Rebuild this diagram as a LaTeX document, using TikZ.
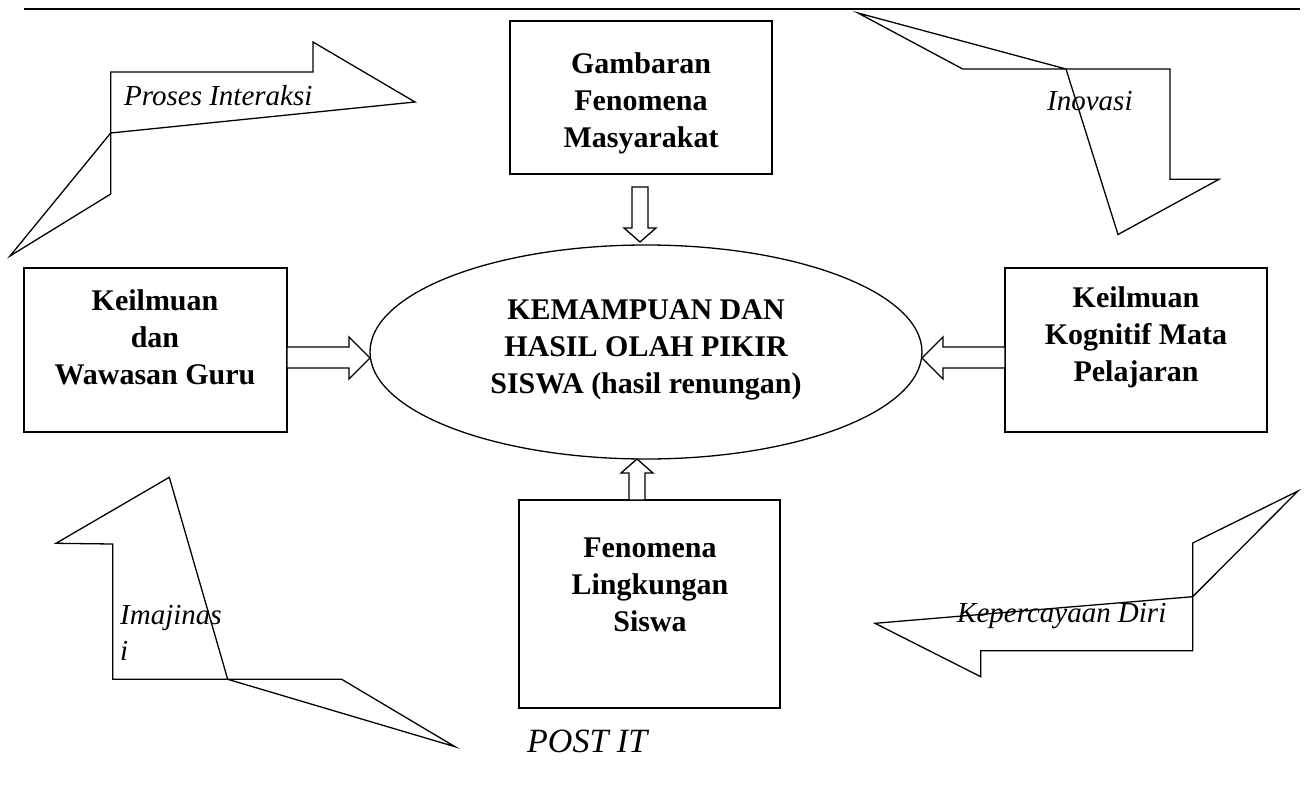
\documentclass[tikz,border=0pt]{standalone}
\usepackage{fontspec}
\setmainfont{Liberation Serif}
\usetikzlibrary{shapes.geometric}
\begin{document}
\begin{tikzpicture}[x=1pt,y=-1pt,
  shp/.style={draw, line width=1.3pt, line join=miter},
  box/.style={draw, line width=1.5pt, rectangle, inner sep=0pt},
  btxt/.style={font=\fontsize{30}{37}\selectfont\bfseries, align=center, inner sep=0pt},
  itxt/.style={font=\fontsize{29}{36}\selectfont\itshape, inner sep=0pt, anchor=base west},
  barrow/.style={draw, line width=1.3pt, fill=white, line join=miter}]
\useasboundingbox (0,0) rectangle (1310,806);
% top rule
\draw[line width=2.2pt] (24,9) -- (1300,9);

% boxes
\node[box, minimum width=262, minimum height=153] (gam) at (641,97.5) {};
\node[box, minimum width=263, minimum height=164] (guru) at (155.5,350) {};
\node[box, minimum width=262, minimum height=164] (kog) at (1136,350) {};
\node[box, minimum width=261, minimum height=208] (fen) at (649.5,604) {};
\node[draw, ellipse, line width=1.3pt, minimum width=552, minimum height=214, inner sep=0pt] (ell) at (646,352) {};

% texts
\node[btxt] (gamt) at (641,103) {Gambaran\\Fenomena\\Masyarakat};
\node[btxt] (gurut) at (155,337) {Keilmuan\\dan\\Wawasan Guru};
\node[btxt] (kogt) at (1136,337) {Keilmuan\\Kognitif Mata\\Pelajaran};
\node[btxt] (fent) at (650,585) {Fenomena\\Lingkungan\\Siswa};
\node[btxt] (ellt) at (646,350) {KEMAMPUAN DAN\\HASIL OLAH PIKIR\\SISWA (hasil renungan)};

% block arrows
\draw[barrow] (632,187) -- (648,187) -- (648,228) -- (656,228) -- (640,242) -- (624,228) -- (632,228) -- cycle;
\draw[barrow] (287,347) -- (349,347) -- (349,337) -- (370,358) -- (349,379) -- (349,368) -- (287,368) -- cycle;
\draw[barrow] (1005,347) -- (943,347) -- (943,337) -- (922,358) -- (943,379) -- (943,368) -- (1005,368) -- cycle;
\draw[barrow] (629,500) -- (629,473) -- (621,473) -- (637,459) -- (653,473) -- (645,473) -- (645,500) -- cycle;

% corner arrows
\draw[shp] (110.7,72) -- (313,72) -- (313,42) -- (415,102) -- (110.7,133) -- (10,256) -- (110.7,194) -- cycle;
\draw[shp] (858,13) -- (962.7,69) -- (1170,69) -- (1170,179.3) -- (1219,179.3) -- (1118,234.5) -- (1066,69) -- cycle;
\draw[shp] (112.7,544) -- (112.7,679.3) -- (341.7,679.3) -- (455,746.7) -- (227.7,679.3) -- (169.3,477.3) -- (56,543.3) -- cycle;
\draw[shp] (1298,491) -- (1192.7,543) -- (1192.7,650.7) -- (980.7,650.7) -- (980.7,676.7) -- (875,623.3) -- (1192.7,596.7) -- cycle;

% labels
\node[itxt] (l1) at (124,105) {Proses Interaksi};
\node[itxt] (l2) at (1047,110) {Inovasi};
\node[itxt] (l3a) at (120,624) {Imajinas};
\node[itxt] (l3b) at (120,660) {i};
\node[itxt] (l4) at (957,622) {Kepercayaan Diri};
\node[inner sep=0pt, anchor=base west, font=\fontsize{34}{40}\selectfont\itshape] (post) at (527,752) {POST IT};
\end{tikzpicture}
\end{document}
